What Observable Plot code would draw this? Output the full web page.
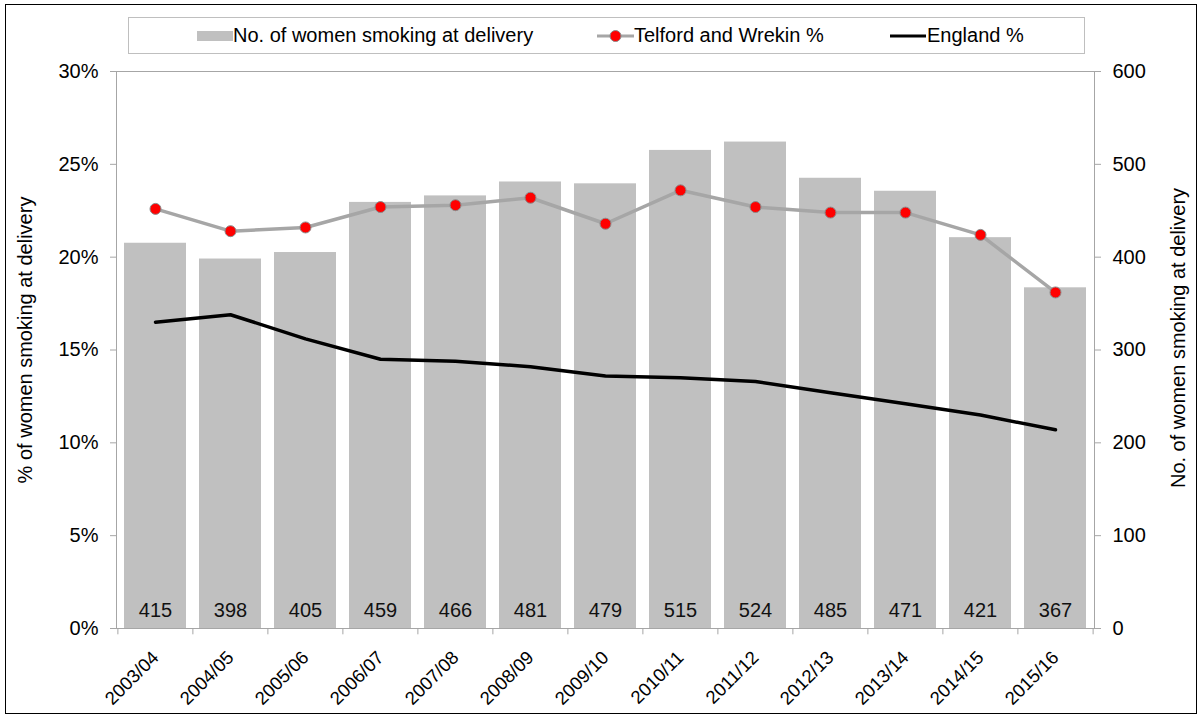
<!DOCTYPE html>
<html><head><meta charset="utf-8">
<script src="https://cdn.jsdelivr.net/npm/d3@7"></script>
<script src="https://cdn.jsdelivr.net/npm/@observablehq/plot@0.6"></script>
<style>
body{margin:0;background:#fff;font-family:"Liberation Sans",Arial,sans-serif;}
#wrap{position:relative;width:1202px;height:718px;overflow:hidden;background:#fff;}
#legendRow{position:relative;height:55px;}
#legend{position:absolute;left:128px;top:17px;width:957px;height:37px;box-sizing:border-box;border:1px solid #bfbfbf;}
.item{position:absolute;top:0;height:35px;display:flex;align-items:center;font-size:20px;color:#000;white-space:nowrap;}
.item svg{display:block;}
#frame{position:absolute;left:5px;top:4px;width:1192px;height:710px;box-sizing:border-box;border:1px solid #000;pointer-events:none;}
#chart svg{display:block;}
</style></head>
<body>
<div id="wrap">
  <div id="legendRow">
    <div id="legend">
      <div class="item" style="left:68px"><svg width="36" height="12"><rect x="0" y="1" width="36" height="10" fill="#c0c0c0"/></svg><span>No. of women smoking at delivery</span></div>
      <div class="item" style="left:468px"><svg width="37" height="14"><line x1="0" y1="7" x2="37" y2="7" stroke="#a6a6a6" stroke-width="3"/><circle cx="18.5" cy="7" r="5.5" fill="#ff0000" stroke="#8a8a8a" stroke-width="1"/></svg><span>Telford and Wrekin %</span></div>
      <div class="item" style="left:761px"><svg width="37" height="14"><line x1="0" y1="7" x2="36" y2="7" stroke="#000" stroke-width="3"/></svg><span>England %</span></div>
    </div>
  </div>
  <div id="chart"></div>
  <div id="frame"></div>
</div>
<script>
const years = ["2003/04","2004/05","2005/06","2006/07","2007/08","2008/09","2009/10","2010/11","2011/12","2012/13","2013/14","2014/15","2015/16"];
const counts = [415,398,405,459,466,481,479,515,524,485,471,421,367];
const telfordPct = [22.6,21.4,21.6,22.7,22.8,23.2,21.8,23.6,22.7,22.4,22.4,21.2,18.1];
const englandPct = [16.5,16.9,15.6,14.5,14.4,14.1,13.6,13.5,13.3,12.7,12.1,11.5,10.7];
const leftTicks = [0,5,10,15,20,25,30];
const rightTicks = [0,100,200,300,400,500,600];
const leftMax = 30, rightMax = 600;

const table = years.map((y,i)=>({year:y, count:counts[i], telford:telfordPct[i], england:englandPct[i]}));
const toLeft = v => v*leftMax/rightMax;

const W = 1202, H = 663, mL = 116, mR = 108, mT = 16, mB = 90;
const step = (W - mL - mR)/years.length;
const font = '"Liberation Sans", Arial, sans-serif';
const fs = 20;

const chart = Plot.plot({
  width: W, height: H,
  marginLeft: mL, marginRight: mR, marginTop: mT, marginBottom: mB,
  style: {fontFamily: font, fontSize: fs + "px", color: "#000", background: "#fff"},
  x: {type: "band", domain: years, paddingInner: 0.175, paddingOuter: 0.0875, axis: null},
  y: {domain: [0, leftMax], axis: null},
  marks: [
    Plot.barY(table, {x: "year", y: d => toLeft(d.count), fill: "#c0c0c0"}),
    Plot.frame({stroke: "#a6a6a6"}),
    Plot.axisY(leftTicks, {anchor: "left", tickSize: 6, tickPadding: 12, stroke: "#a6a6a6", fill: "#000", fontSize: fs, tickFormat: d => d + "%", label: null}),
    Plot.axisY(rightTicks.map(toLeft), {anchor: "right", tickSize: 6, tickPadding: 12, stroke: "#a6a6a6", fill: "#000", fontSize: fs, tickFormat: d => String(Math.round(d*rightMax/leftMax)), label: null}),
    Plot.axisX(years, {anchor: "bottom", tickSize: 0, tickPadding: 25, dx: 0, dy: 1, tickRotate: -45, fill: "#000", fontSize: 18.5, label: null}),
    Plot.ruleX(years, {x: d => d, dx: -step/2, y1: 0, y2: -0.34, stroke: "#a6a6a6", clip: false}),
    Plot.ruleX([years[years.length-1]], {x: d => d, dx: step/2, y1: 0, y2: -0.34, stroke: "#a6a6a6", clip: false}),
    Plot.text(table, {x: "year", y: 0, text: d => String(d.count), dy: -18, fontSize: fs, fill: "#111", lineAnchor: "middle"}),
    Plot.line(table, {x: "year", y: "england", stroke: "#000", strokeWidth: 3.5}),
    Plot.line(table, {x: "year", y: "telford", stroke: "#a6a6a6", strokeWidth: 3.5}),
    Plot.dot(table, {x: "year", y: "telford", r: 5.5, fill: "#ff0000", stroke: "#8a8a8a", strokeWidth: 1}),
    Plot.text(["% of women smoking at delivery"], {frameAnchor: "left", textAnchor: "middle", dx: -91, dy: -10, rotate: -90, fontSize: fs, fill: "#000"}),
    Plot.text(["No. of women smoking at delivery"], {frameAnchor: "right", textAnchor: "middle", dx: 84, dy: -12, rotate: -90, fontSize: fs, fill: "#000"})
  ]
});
document.getElementById("chart").appendChild(chart);
</script>
</body></html>
